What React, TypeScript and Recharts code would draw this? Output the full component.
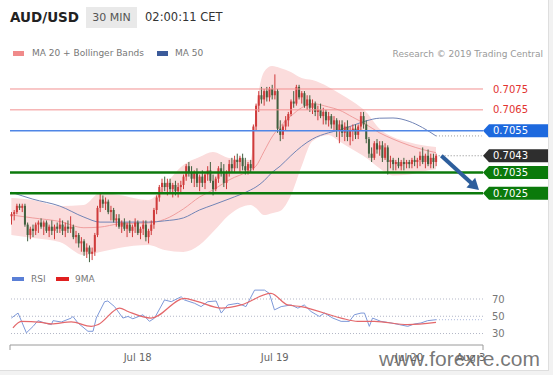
import React from 'react';
import { ComposedChart, Bar, Line, Area, XAxis, YAxis, ReferenceLine } from 'recharts';

const FONT = '"DejaVu Sans", Verdana, sans-serif';

// ---------- price panel data ----------
// [open, high, low, close] per 30-min bar
const candles: number[][] = [
  [0.7014,0.7016,0.7010,0.7015],[0.7015,0.7017,0.7012,0.7016],[0.7016,0.7020,0.7015,0.7019],[0.7019,0.7020,0.7017,0.7018],
  [0.7018,0.7020,0.7016,0.7019],[0.7019,0.7020,0.7009,0.7010],[0.7010,0.7011,0.7002,0.7005],[0.7005,0.7009,0.7003,0.7008],
  [0.7008,0.7010,0.7004,0.7007],[0.7007,0.7011,0.7005,0.7010],[0.7010,0.7012,0.7006,0.7011],[0.7011,0.7013,0.7008,0.7009],
  [0.7009,0.7012,0.7005,0.7011],[0.7011,0.7012,0.7006,0.7007],[0.7007,0.7010,0.7004,0.7009],[0.7009,0.7012,0.7005,0.7007],
  [0.7007,0.7010,0.7003,0.7009],[0.7009,0.7011,0.7006,0.7008],[0.7008,0.7013,0.7006,0.7010],[0.7010,0.7012,0.7005,0.7007],
  [0.7007,0.7011,0.7004,0.7009],[0.7009,0.7012,0.7006,0.7008],[0.7008,0.7014,0.7006,0.7009],[0.7009,0.7010,0.7003,0.7004],
  [0.7004,0.7007,0.7001,0.7005],[0.7005,0.7006,0.6999,0.7001],[0.7001,0.7004,0.6997,0.7002],[0.7002,0.7003,0.6995,0.6997],
  [0.6997,0.7001,0.6994,0.6999],[0.6999,0.7000,0.6992,0.6996],[0.6996,0.6999,0.6993,0.6997],[0.6997,0.7006,0.6995,0.7005],
  [0.7005,0.7019,0.7004,0.7018],[0.7018,0.7025,0.7016,0.7022],[0.7022,0.7024,0.7018,0.7020],[0.7020,0.7023,0.7017,0.7021],
  [0.7021,0.7022,0.7015,0.7016],[0.7016,0.7019,0.7012,0.7017],[0.7017,0.7018,0.7011,0.7012],[0.7012,0.7015,0.7009,0.7013],
  [0.7013,0.7015,0.7008,0.7009],[0.7009,0.7012,0.7006,0.7011],[0.7011,0.7013,0.7007,0.7008],[0.7008,0.7011,0.7004,0.7010],
  [0.7010,0.7012,0.7006,0.7007],[0.7007,0.7010,0.7004,0.7009],[0.7009,0.7013,0.7006,0.7011],[0.7011,0.7012,0.7005,0.7006],
  [0.7006,0.7009,0.7003,0.7008],[0.7008,0.7012,0.7005,0.7010],[0.7010,0.7012,0.7002,0.7004],[0.7004,0.7008,0.7001,0.7007],
  [0.7007,0.7012,0.7005,0.7010],[0.7010,0.7018,0.7008,0.7017],[0.7017,0.7024,0.7015,0.7023],[0.7023,0.7029,0.7021,0.7028],
  [0.7028,0.7032,0.7025,0.7030],[0.7030,0.7033,0.7026,0.7028],[0.7028,0.7032,0.7024,0.7030],[0.7030,0.7032,0.7025,0.7027],
  [0.7027,0.7030,0.7023,0.7029],[0.7029,0.7031,0.7024,0.7026],[0.7026,0.7030,0.7023,0.7028],[0.7028,0.7031,0.7025,0.7029],
  [0.7029,0.7034,0.7027,0.7033],[0.7033,0.7039,0.7031,0.7038],[0.7038,0.7040,0.7033,0.7035],[0.7035,0.7038,0.7030,0.7032],
  [0.7032,0.7036,0.7028,0.7035],[0.7035,0.7037,0.7028,0.7030],[0.7030,0.7034,0.7026,0.7033],[0.7033,0.7036,0.7028,0.7030],
  [0.7030,0.7035,0.7027,0.7034],[0.7034,0.7038,0.7031,0.7036],[0.7036,0.7040,0.7030,0.7031],[0.7031,0.7034,0.7024,0.7027],
  [0.7027,0.7033,0.7026,0.7032],[0.7032,0.7038,0.7030,0.7037],[0.7037,0.7040,0.7033,0.7035],[0.7035,0.7039,0.7028,0.7030],
  [0.7030,0.7036,0.7027,0.7035],[0.7035,0.7041,0.7033,0.7039],[0.7039,0.7042,0.7035,0.7037],[0.7037,0.7043,0.7035,0.7041],
  [0.7041,0.7044,0.7037,0.7040],[0.7040,0.7043,0.7035,0.7042],[0.7042,0.7044,0.7036,0.7038],[0.7038,0.7042,0.7034,0.7036],
  [0.7036,0.7040,0.7034,0.7039],[0.7039,0.7041,0.7035,0.7037],[0.7037,0.7058,0.7036,0.7057],[0.7057,0.7068,0.7055,0.7067],
  [0.7067,0.7074,0.7064,0.7072],[0.7072,0.7076,0.7068,0.7070],[0.7070,0.7075,0.7067,0.7074],[0.7074,0.7076,0.7069,0.7071],
  [0.7071,0.7076,0.7069,0.7075],[0.7075,0.7077,0.7070,0.7072],[0.7072,0.7082,0.7070,0.7074],[0.7074,0.7075,0.7054,0.7056],
  [0.7056,0.7060,0.7050,0.7053],[0.7053,0.7058,0.7051,0.7057],[0.7057,0.7062,0.7055,0.7060],[0.7060,0.7064,0.7057,0.7063],
  [0.7063,0.7070,0.7062,0.7069],[0.7069,0.7074,0.7066,0.7068],[0.7068,0.7077,0.7067,0.7076],[0.7076,0.7077,0.7070,0.7071],
  [0.7071,0.7074,0.7068,0.7073],[0.7073,0.7074,0.7066,0.7067],[0.7067,0.7072,0.7065,0.7070],[0.7070,0.7072,0.7064,0.7066],
  [0.7066,0.7070,0.7063,0.7068],[0.7068,0.7069,0.7062,0.7064],[0.7064,0.7067,0.7060,0.7065],[0.7065,0.7068,0.7061,0.7062],
  [0.7062,0.7066,0.7058,0.7064],[0.7064,0.7065,0.7058,0.7060],[0.7060,0.7064,0.7057,0.7062],[0.7062,0.7063,0.7056,0.7058],
  [0.7058,0.7062,0.7055,0.7060],[0.7060,0.7061,0.7052,0.7055],[0.7055,0.7060,0.7049,0.7058],[0.7058,0.7060,0.7052,0.7054],
  [0.7054,0.7059,0.7050,0.7057],[0.7057,0.7060,0.7050,0.7052],[0.7052,0.7057,0.7048,0.7055],[0.7055,0.7058,0.7050,0.7056],
  [0.7056,0.7058,0.7051,0.7053],[0.7053,0.7058,0.7051,0.7057],[0.7057,0.7064,0.7055,0.7062],[0.7062,0.7064,0.7056,0.7058],
  [0.7058,0.7060,0.7049,0.7051],[0.7051,0.7052,0.7042,0.7044],[0.7044,0.7047,0.7040,0.7042],[0.7042,0.7050,0.7041,0.7049],
  [0.7049,0.7051,0.7044,0.7046],[0.7046,0.7050,0.7043,0.7048],[0.7048,0.7050,0.7040,0.7042],[0.7042,0.7049,0.7041,0.7047],
  [0.7047,0.7048,0.7034,0.7040],[0.7040,0.7043,0.7037,0.7041],[0.7041,0.7042,0.7036,0.7039],[0.7039,0.7041,0.7036,0.7040],
  [0.7040,0.7042,0.7037,0.7038],[0.7038,0.7041,0.7036,0.7040],[0.7040,0.7042,0.7036,0.7039],[0.7039,0.7041,0.7037,0.7040],
  [0.7040,0.7041,0.7037,0.7039],[0.7039,0.7042,0.7037,0.7041],[0.7041,0.7043,0.7038,0.7040],[0.7040,0.7042,0.7037,0.7041],
  [0.7041,0.7045,0.7038,0.7043],[0.7043,0.7047,0.7039,0.7040],[0.7040,0.7044,0.7037,0.7043],[0.7043,0.7046,0.7038,0.7039],
  [0.7039,0.7044,0.7037,0.7042],[0.7042,0.7044,0.7037,0.7040],[0.7040,0.7044,0.7038,0.7043],
];
const slotCount = 176;

const overlayIdx = [0,8,18,27,33,40,51,57,64,70,75,81,89,91,94,97,100,104,108,112,118,122,127,132,137,142,148,153,158];
const ma20 = [0.70146,0.70132,0.70115,0.70085,0.70088,0.70103,0.70108,0.70125,0.70175,0.70232,0.70266,0.70314,0.70362,0.7038,0.7045,0.7052,0.7057,0.7062,0.7066,0.7068,0.70664,0.70649,0.70615,0.7058,0.7054,0.7051,0.7048,0.7046,0.70445];
const bbUpper = [0.70227,0.70218,0.70189,0.70194,0.70251,0.70242,0.70218,0.7029,0.70386,0.70424,0.70448,0.70419,0.7041,0.70649,0.70832,0.7086,0.70851,0.70832,0.70803,0.70793,0.7076,0.7073,0.7069,0.7064,0.7056,0.7052,0.70495,0.7048,0.70472];
const bbLower = [0.7005,0.70036,0.70017,0.69954,0.69969,0.69988,0.70002,0.69978,0.69969,0.70002,0.70064,0.70146,0.70194,0.7018,0.70146,0.70155,0.70165,0.7024,0.7038,0.705,0.7053,0.705,0.7046,0.7042,0.7037,0.70335,0.7034,0.70355,0.70365];
const ma50 = [0.70255,0.70222,0.70189,0.70136,0.70112,0.70112,0.70112,0.70118,0.70132,0.7017,0.70194,0.70223,0.70266,0.7028,0.7031,0.7035,0.7038,0.7043,0.70475,0.7051,0.7054,0.70553,0.70575,0.70597,0.7061,0.70611,0.70595,0.70565,0.70525];

const levelPrices = [0.7075, 0.7065, 0.7055, 0.7043, 0.7035, 0.7025];
const levelKinds = ['res', 'res', 'ma', 'last', 'sup', 'sup'];
const lastBar = 158;
const arrowStart = { i: 160, price: 0.7043 };
const arrowEnd = { i: 174, price: 0.70266 };
const priceDomain = [0.69892, 0.70865];

// ---------- RSI panel data ----------
const rsiPoints: number[][] = [
  [0,47.9],[2.5,53.7],[5.6,30.8],[8.1,38.3],[9.9,44.9],[12.4,42.2],[14.9,40.3],[15.5,44.9],[18.6,43.4],[22.3,47.9],
  [22.9,49.8],[24.8,42.2],[28.5,32.6],[30.4,32.6],[31.6,47.9],[34.7,66.9],[35.9,67.7],[38.4,61.2],[41.5,47.9],[43.4,49.8],
  [45.2,47.1],[49,51.7],[51.4,44.1],[53.3,47.9],[57,68.9],[59.5,66.9],[63.2,72.6],[64.4,68.9],[68.2,65],[70.6,61.2],
  [73.1,66.9],[76.2,67.7],[78.1,53.7],[80.5,63.1],[84.3,65],[87.3,61.2],[90.5,80.3],[94.2,80.3],[96,76.5],[97.9,57.4],
  [100.4,61.2],[104.1,63.1],[106.6,59.4],[109,63.1],[111.5,55.5],[114.6,49.8],[116.5,53.7],[119.6,47.9],[122.7,44.1],[125.8,44.1],
  [127.6,51.7],[130.1,53.7],[131.4,53.7],[133.2,38.3],[134.4,47.9],[137.5,44.1],[141.3,42.2],[144.4,40.3],[147.5,38.3],[150,41.1],
  [152.4,42.2],[154.9,44.9],[158,46],
];
const sigPoints: number[][] = [
  [0.6,36.5],[3.7,44.1],[11.1,42.9],[14.9,41.1],[22.3,43.4],[29.7,38.3],[32.2,40.3],[40.3,59.4],[43.4,55.5],[52,47.9],
  [64.4,70.8],[69.4,66.9],[78.1,59.4],[85.5,63.1],[96.6,76.5],[102.8,63.1],[107.8,61.2],[122.7,47.9],[128.9,44.1],[135.1,44.1],
  [147.5,40.3],[158,42.9],
];
const rsiLevels = [70, 50, 30];
const rsiDomain = [16.7, 84.6];
const dateTickIdx = [47, 98, 148, 171];
const dateTickLabels = ['Jul 18', 'Jul 19', 'Jul 20', 'Aug 3'];

// ---------- tables ----------
const candleRows = Array.from({ length: slotCount }, (_, i) => {
  const c = candles[i];
  return c ? { i, o: c[0], h: c[1], l: c[2], c: c[3] } : { i };
});
const overlayRows = overlayIdx.map((i, k) => ({ i, ma20: ma20[k], bbU: bbUpper[k], bbL: bbLower[k], ma50: ma50[k] }));
const rsiRows = [
  ...rsiPoints.map(([x, v]) => ({ x, rsi: v })),
  ...sigPoints.map(([x, v]) => ({ x, sig: v })),
].sort((a, b) => a.x - b.x);

const UP = '#cf3b3b';
const DOWN = '#41603f';
const ARROW = '#2d5e9c';

const Candle = (props: any) => {
  const { x, y, width, height, payload } = props;
  if (!payload || payload.h == null || !isFinite(y) || !isFinite(height)) return null;
  const { o, h, l, c } = payload;
  const k = h - l > 0 ? height / (h - l) : 0;
  const cx = x + width / 2;
  const yo = y + (h - o) * k;
  const yc = y + (h - c) * k;
  const top = Math.min(yo, yc);
  const bh = Math.max(1, Math.abs(yo - yc));
  const color = c >= o ? UP : DOWN;
  return (
    <g>
      <line x1={cx} x2={cx} y1={y} y2={y + height} stroke={color} strokeWidth={1} />
      <rect x={cx - 1} y={top} width={2} height={bh} fill={color} />
    </g>
  );
};

const KIND: any = {
  res: { line: '#f29090', w: 1, text: '#e2332f' },
  ma: { line: '#4f86e6', w: 1.5, box: '#1d69de' },
  last: { line: null, w: 0, box: '#2e2e2e' },
  sup: { line: '#0c7a0c', w: 2.5, box: '#0b7a0b' },
};

const LevelShape = (p: any) => {
  const { x1, x2, y1, kind, text } = p;
  const st = KIND[kind];
  const tip = x2;
  const hh = 6.5;
  return (
    <g>
      {st.line && <line x1={x1} x2={x2} y1={y1} y2={y1} stroke={st.line} strokeWidth={st.w} />}
      {kind === 'res' ? (
        <text x={tip + 10} y={y1 + 3.6} fontSize={10} fill={st.text} fontFamily={FONT}>{text}</text>
      ) : (
        <g>
          <path d={`M${tip} ${y1} L${tip + 6} ${y1 - hh} L${tip + 65} ${y1 - hh} L${tip + 65} ${y1 + hh} L${tip + 6} ${y1 + hh} Z`} fill={st.box} />
          <text x={tip + 10} y={y1 + 3.6} fontSize={10} fill="#ffffff" fontFamily={FONT}>{text}</text>
        </g>
      )}
    </g>
  );
};

const ArrowShape = (p: any) => {
  const { x1, y1, x2, y2 } = p;
  const dx = x2 - x1;
  const dy = y2 - y1;
  const len = Math.hypot(dx, dy) || 1;
  const ux = dx / len;
  const uy = dy / len;
  const head = 11;
  const hw = 6.5;
  const bx = x2 - ux * head;
  const by = y2 - uy * head;
  return (
    <g>
      <line x1={x1} y1={y1} x2={bx + ux} y2={by + uy} stroke={ARROW} strokeWidth={4} />
      <polygon points={`${x2},${y2} ${bx - uy * hw},${by + ux * hw} ${bx + uy * hw},${by - ux * hw}`} fill={ARROW} />
    </g>
  );
};

const DateTick = (p: any) => {
  const { x, y, payload } = p;
  const k = dateTickIdx.indexOf(payload.value);
  if (k < 0) return <line x1={x} x2={x} y1={y} y2={y + 5} stroke="#9a9a9a" strokeWidth={1} />;
  return (
    <text x={x} y={y + 16} textAnchor="middle" fontSize={10} fill="#666" fontFamily={FONT}>{dateTickLabels[k]}</text>
  );
};

const abs = (left: number, top: number, extra: any = {}) => ({ position: 'absolute' as const, left, top, ...extra });

export default function App() {
  const lastMa50 = ma50[ma50.length - 1];
  const lastRsi = rsiPoints[rsiPoints.length - 1];
  return (
    <div style={{ position: 'absolute', left: 0, top: 0, width: 553, height: 375, background: '#f2f2f2', fontFamily: FONT, overflow: 'hidden' }}>
      <div style={abs(0, 0, { width: 548, height: 370, background: '#fff', borderRight: '1px solid #dedede', borderBottom: '1px solid #dedede' })} />

      {/* header */}
      <div style={abs(10, 8, { fontSize: 13.5, fontWeight: 'bold', color: '#222', lineHeight: '18px' })}>AUD/USD</div>
      <div style={abs(86, 7, { width: 51, height: 21, background: '#e9e9e9', color: '#555', fontSize: 11, lineHeight: '21px', textAlign: 'center' })}>30 MIN</div>
      <div style={abs(145, 7, { fontSize: 11.5, color: '#333', lineHeight: '21px' })}>02:00:11 CET</div>

      {/* price legend */}
      <div style={abs(13, 51, { width: 11, height: 4.5, background: '#f08a8a' })} />
      <div style={abs(32, 47, { fontSize: 9, color: '#777', lineHeight: '12px' })}>MA 20 + Bollinger Bands</div>
      <div style={abs(157, 51, { width: 11, height: 4.5, background: '#3b5b9a' })} />
      <div style={abs(175, 47, { fontSize: 9, color: '#777', lineHeight: '12px' })}>MA 50</div>
      <div style={{ position: 'absolute', right: 10, top: 48, fontSize: 9, color: '#999', lineHeight: '12px' }}>Research © 2019 Trading Central</div>

      {/* overlays: Bollinger band + moving averages */}
      <div style={abs(0, 0)}>
        <ComposedChart width={553} height={272} data={overlayRows} margin={{ top: 65, right: 70, bottom: 4, left: 10 }}>
          <XAxis type="number" dataKey="i" domain={[-0.5, slotCount - 0.5]} hide allowDataOverflow />
          <YAxis domain={priceDomain} hide allowDataOverflow />
          <Area type="monotone" dataKey={(d: any) => [d.bbL, d.bbU]} stroke="none" fill="#fbdcdc" fillOpacity={1} isAnimationActive={false} />
          <Line type="monotone" dataKey="ma20" stroke="#f09e9e" strokeWidth={1} dot={false} isAnimationActive={false} />
          <Line type="monotone" dataKey="ma50" stroke="#7184b6" strokeWidth={1} dot={false} isAnimationActive={false} />
        </ComposedChart>
      </div>

      {/* candles + levels */}
      <div style={abs(0, 0)}>
        <ComposedChart width={553} height={272} data={candleRows} margin={{ top: 65, right: 70, bottom: 4, left: 10 }} barCategoryGap={0}>
          <XAxis dataKey="i" hide />
          <YAxis domain={priceDomain} hide allowDataOverflow />
          {levelPrices.map((p, k) => (
            <ReferenceLine key={'lv' + k} y={p} shape={(sp: any) => <LevelShape {...sp} kind={levelKinds[k]} text={p.toFixed(4)} />} />
          ))}
          <ReferenceLine segment={[{ x: lastBar, y: lastMa50 }, { x: slotCount - 1, y: lastMa50 }]} stroke="#9a9a9a" strokeDasharray="1 2" />
          <ReferenceLine segment={[{ x: lastBar + 1, y: levelPrices[3] }, { x: slotCount - 1, y: levelPrices[3] }]} stroke="#8a8a8a" strokeDasharray="1 2" />
          <Bar dataKey={(d: any) => (d.h != null ? [d.l, d.h] : null)} shape={(sp: any) => <Candle {...sp} />} isAnimationActive={false} />
          <ReferenceLine segment={[{ x: arrowStart.i, y: arrowStart.price }, { x: arrowEnd.i, y: arrowEnd.price }]} shape={(sp: any) => <ArrowShape {...sp} />} />
        </ComposedChart>
      </div>

      {/* RSI legend */}
      <div style={abs(12, 277, { width: 12, height: 4, background: '#5a7fd6' })} />
      <div style={abs(31, 273, { fontSize: 9, color: '#777', lineHeight: '12px' })}>RSI</div>
      <div style={abs(56, 277, { width: 13, height: 4, background: '#e02020' })} />
      <div style={abs(75, 273, { fontSize: 9, color: '#777', lineHeight: '12px' })}>9MA</div>

      {/* RSI panel */}
      <div style={abs(0, 270)}>
        <ComposedChart width={553} height={105} data={rsiRows} margin={{ top: 16.4, right: 0, bottom: 0, left: 10 }}>
          <XAxis type="number" dataKey="x" domain={[-0.5, slotCount - 0.5]} ticks={[-0.5, ...dateTickIdx, slotCount - 0.5]} interval={0}
            height={30} tickLine={false} tickSize={0} tickMargin={0} axisLine={{ stroke: '#9a9a9a' }} tick={(tp: any) => <DateTick {...tp} />} allowDataOverflow />
          <YAxis orientation="right" domain={rsiDomain} ticks={rsiLevels} interval={0} width={70} axisLine={false} tickLine={false}
            tickSize={0} tickMargin={9} tick={{ fontSize: 10, fill: '#777', fontFamily: FONT }} allowDataOverflow />
          {rsiLevels.map((v) => (
            <ReferenceLine key={'r' + v} y={v} stroke="#b3b7c7" strokeDasharray="1 2" />
          ))}
          <ReferenceLine segment={[{ x: lastRsi[0], y: lastRsi[1] }, { x: slotCount - 0.5, y: lastRsi[1] }]} stroke="#a9b6dc" strokeDasharray="1 2" />
          <Line type="linear" dataKey="rsi" stroke="#7d98d8" strokeWidth={1} dot={false} connectNulls isAnimationActive={false} />
          <Line type="monotone" dataKey="sig" stroke="#e4686b" strokeWidth={1.2} dot={false} connectNulls isAnimationActive={false} />
        </ComposedChart>
      </div>

      {/* watermark */}
      <div style={abs(379, 348, { fontFamily: '"Liberation Sans", Arial, sans-serif', fontSize: 21, lineHeight: '21px', color: 'rgba(95,95,95,0.85)' })}>www.forexre.com</div>
    </div>
  );
}
